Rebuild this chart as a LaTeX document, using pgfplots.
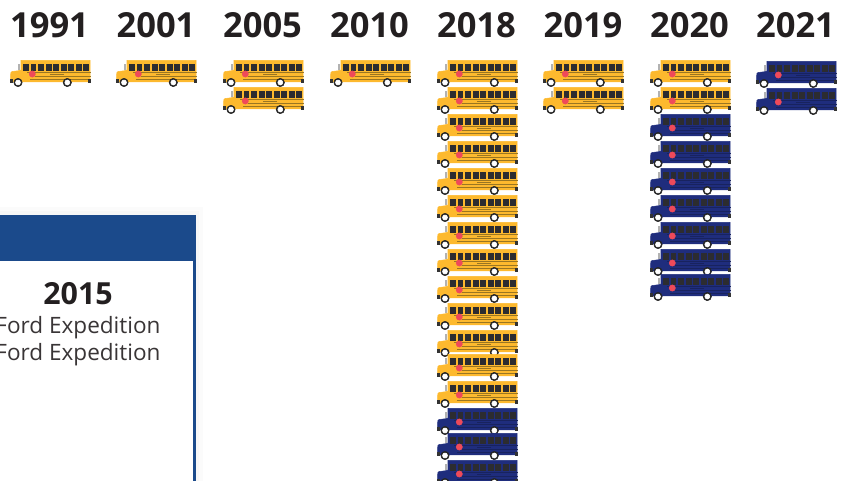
\documentclass[border=0pt]{standalone}
\usepackage{pgfplots}
\usepackage{pgfplotstable}
\pgfplotsset{compat=1.18}
\usepackage{fontspec}
\setmainfont{Open Sans}

\definecolor{busyellow}{HTML}{FDB92E}
\definecolor{yellowstripe}{HTML}{9A7622}
\definecolor{busblue}{HTML}{1F2D7D}
\definecolor{bluestripe}{HTML}{18235F}
\definecolor{buswindow}{HTML}{2C2C30}
\definecolor{stopred}{HTML}{EF4A5A}
\definecolor{headerblue}{HTML}{1B4A8B}
\definecolor{inktext}{HTML}{231F20}

% one bus, origin top left, units are reference pixels
% small fills come out fat in the raster, so windows and stripes are kept narrow
\newcommand{\drawbus}[2]{%
  \begin{scope}[x=0.75pt,y=-0.75pt]
    \fill[#1] (11,0.3) -- (80,0.3) -- (80,21.8) -- (0.5,21.8) -- (0.8,12.6)
      -- (2,11.6) -- (9.5,10.6) -- (11,10) -- cycle;
    \fill[gray!60] (8.3,4.3) rectangle (8.9,9);
    \foreach \k in {0,...,8} {
      \fill[buswindow] ({13.3+7.55*\k},4.2) rectangle ++(4.9,6.2);
    }
    \fill[#2] (17,12.3) rectangle (80,12.7);
    \fill[#2] (25,15.9) rectangle (80,16.2);
    \fill[#2] (20,19.2) rectangle (80,19.6);
    \fill[#2] (40,14.2) rectangle (53,14.7);
    \fill[stopred] (22.3,14) circle (3.1);
    \fill[black!80] (0,19) rectangle (1.8,22);
    \fill[black!80] (78.6,19) rectangle (80,22);
    \foreach \cx in {8,57.3} {
      \fill[black!85] (\cx,22.5) circle (4.2);
      \fill[white] (\cx,22.5) circle (2.5);
    }
  \end{scope}%
}
\pgfdeclareplotmark{yellowbus}{\drawbus{busyellow}{yellowstripe}}
\pgfdeclareplotmark{bluebus}{\drawbus{busblue}{bluestripe}}

% x = left edge of the column, y = top of the bus, in pixels
\pgfplotstableread{
x y
10 60
116 60
223 60
223 87
330 60
437 60
437 87
437 114
437 141
437 168
437 195
437 222
437 249
437 276
437 303
437 330
437 354
437 381
543 60
543 87
650 60
650 87
}\yellowbuses
\pgfplotstableread{
x y
437 408
437 433
437 460
650 114
650 141
650 168
650 195
650 222
650 249
650 274
756 61
756 88
}\bluebuses

\begin{document}
\begin{tikzpicture}
\useasboundingbox (0,0) rectangle (636pt,360.75pt);
\begin{axis}[
    at={(0,0)},anchor=south west,
    width=636pt,height=360.75pt,scale only axis,
    xmin=0,xmax=848,ymin=0,ymax=481,y dir=reverse,
    hide axis,clip=true,
]
% panel behind the buses
\fill[black!1.5] (axis cs:-5,207) rectangle (axis cs:203,490);
\fill[black!3] (axis cs:-5,211) rectangle (axis cs:199,490);
\fill[white] (axis cs:-5,215) rectangle (axis cs:193,490);
\fill[headerblue] (axis cs:-5,215) rectangle (axis cs:196,261);
\fill[headerblue] (axis cs:193,261) rectangle (axis cs:196,490);
\node[font=\fontsize{22.8pt}{25pt}\selectfont\bfseries,text=inktext] at (axis cs:78,294) {2015};
\node[font=\fontsize{16.9pt}{20pt}\selectfont,text=inktext!90] at (axis cs:78,328) {Ford Expedition};
\node[font=\fontsize{16.9pt}{20pt}\selectfont,text=inktext!90] at (axis cs:78,355) {Ford Expedition};

\addplot[only marks,mark=yellowbus] table[x=x,y=y] {\yellowbuses};
\addplot[only marks,mark=bluebus] table[x=x,y=y] {\bluebuses};

% year headers over the columns
\foreach \xc/\yr in {49.5/1991,156/2001,262.5/2005,369.5/2010,476.5/2018,583/2019,689.5/2020,795.5/2021} {
  \edef\temp{\noexpand\node[font=\noexpand\fontsize{25.9pt}{29pt}\noexpand\selectfont\noexpand\bfseries,text=inktext] at (axis cs:\xc,25) {\yr};}
  \temp
}
\end{axis}
\end{tikzpicture}
\end{document}
